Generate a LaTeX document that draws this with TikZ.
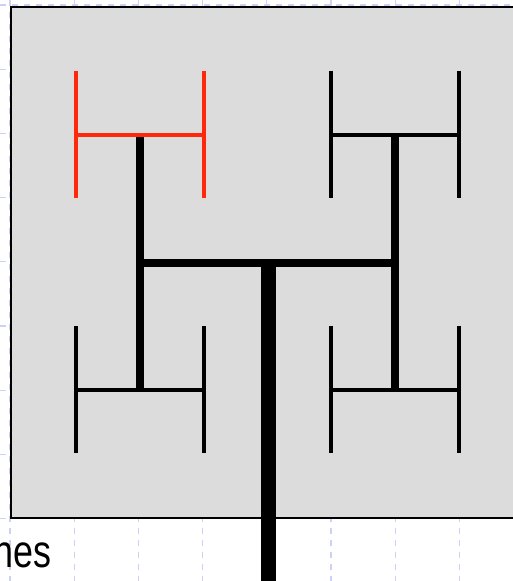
\documentclass[tikz,border=0pt]{standalone}
\usepackage{fontspec}
\usepackage{graphicx}
\setmainfont{Liberation Sans}
\definecolor{panelgray}{RGB}{220,220,220}
\definecolor{branchred}{RGB}{255,40,10}
\definecolor{gridblue}{RGB}{205,210,245}
\usetikzlibrary{calc}

\begin{document}
\begin{tikzpicture}[x=0.5pt,y=-0.5pt,
    gridline/.style={gridblue,dashed,line width=0.6pt},
    panel/.style={fill=panelgray,draw=black,line width=1.25pt},
    trunk/.style={line width=7.5pt},
    limb/.style={line width=4pt},
    twig/.style={line width=2pt}]
\useasboundingbox (0,0) rectangle (512,581);
\foreach \k in {0,...,7} \draw[gridline] (10+64.2*\k,0) -- (10+64.2*\k,581);
\foreach \k in {0,...,8} \draw[gridline] (0,5+64.2*\k) -- (512,5+64.2*\k);
\draw[panel] (11,7) rectangle (540,518);
\node[anchor=base east,inner sep=0pt,font=\fontsize{23}{27}\selectfont] (caption) at (52,567) {\scalebox{0.78}[1]{hes}};
\coordinate (base) at (268,600);
\coordinate (fork) at (268,263);
\coordinate (left) at (140,263);
\coordinate (right) at (395,263);
\coordinate (tl) at (140,135);
\coordinate (bl) at (140,390);
\coordinate (tr) at (395,135);
\coordinate (br) at (395,390);
\draw[trunk] (base) -- (fork);
\draw[limb] (left) -- (right);
\draw[limb] (tl) -- (bl);
\draw[limb] (tr) -- (br);
\foreach \c/\col in {tl/branchred,tr/black,bl/black,br/black} {
    \draw[twig,\col] ($(\c)+(-64,0)$) -- ($(\c)+(64,0)$);
    \draw[twig,\col] ($(\c)+(-64,-64)$) -- ($(\c)+(-64,63)$);
    \draw[twig,\col] ($(\c)+(64,-64)$) -- ($(\c)+(64,63)$);
}
\end{tikzpicture}
\end{document}
